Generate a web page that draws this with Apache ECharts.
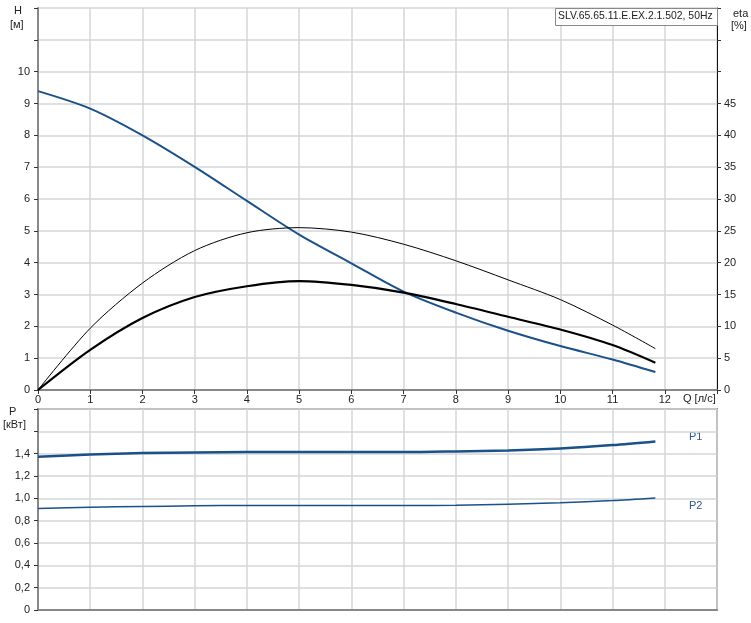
<!DOCTYPE html>
<html>
<head>
<meta charset="utf-8">
<script src="https://cdn.jsdelivr.net/npm/echarts@6/dist/echarts.min.js"></script>
<style>
  html, body { margin: 0; padding: 0; background: #fff; }
  #pump { width: 751px; height: 623px; }
</style>
</head>
<body>
<div id="pump"></div>
<script>
// расход Q, л/с
var qValues = [0, 1, 2, 3, 4, 5, 6, 7, 8, 9, 10, 11, 11.82];
// напор H, м
var headValues = [9.39, 8.84, 8.0, 7.01, 5.94, 4.88, 3.98, 3.09, 2.43, 1.86, 1.38, 0.96, 0.565];
// КПД, % (тонкая и толстая линии)
var etaThin = [0, 9.7, 16.8, 21.9, 24.7, 25.5, 24.8, 22.9, 20.3, 17.3, 14.2, 10.2, 6.5];
var etaThick = [0, 6.3, 11.3, 14.6, 16.3, 17.1, 16.5, 15.3, 13.5, 11.5, 9.5, 7.06, 4.28];
// мощность, кВт
var p1Values = [1.372, 1.393, 1.405, 1.411, 1.414, 1.414, 1.414, 1.414, 1.42, 1.429, 1.447, 1.477, 1.51];
var p2Values = [0.909, 0.921, 0.927, 0.933, 0.936, 0.936, 0.936, 0.936, 0.939, 0.948, 0.96, 0.98, 1.004];

var pairs = function (ys) {
    var res = [];
    for (var i = 0; i < qValues.length; i++) {
        res.push([qValues[i], ys[i]]);
    }
    return res;
};

var blue = '#1b5189';
var font = 'Liberation Sans, Arial, sans-serif';
var gridLine = { show: true, lineStyle: { color: '#d3d6d8', width: 1.5 } };
var labelStyle = { color: '#222', fontSize: 11, fontFamily: font };

var myChart = echarts.init(document.getElementById('pump'));

option = {
    animation: false,
    backgroundColor: '#fff',
    grid: [
        { left: 38, right: 34, top: 8, bottom: 233 },
        { left: 38, right: 34, top: 409, bottom: 13, show: true, borderColor: '#888', borderWidth: 2 }
    ],
    xAxis: [
        {
            gridIndex: 0, type: 'value', min: 0, max: 13, interval: 1,
            axisLine: { lineStyle: { color: '#888', width: 2 } },
            axisTick: { length: 4, lineStyle: { color: '#333' } },
            axisLabel: Object.assign({ margin: 4, formatter: function (v) { return v <= 12 ? v : ''; } }, labelStyle),
            splitLine: gridLine
        },
        {
            gridIndex: 1, type: 'value', min: 0, max: 13, interval: 1,
            axisLine: { lineStyle: { color: '#888', width: 2 } },
            axisTick: { show: false },
            axisLabel: { show: false },
            splitLine: gridLine
        }
    ],
    yAxis: [
        {
            gridIndex: 0, type: 'value', min: 0, max: 12, interval: 1,
            axisLine: { show: true, lineStyle: { color: '#888', width: 2 } },
            axisTick: { show: true, length: 4, lineStyle: { color: '#333' } },
            axisLabel: Object.assign({ margin: 8, formatter: function (v) { return v <= 10 ? v : ''; } }, labelStyle),
            splitLine: gridLine
        },
        {
            gridIndex: 0, type: 'value', min: 0, max: 60, interval: 5, position: 'right',
            axisLine: { show: true, lineStyle: { color: '#111', width: 1 } },
            axisTick: { show: true, length: 4, lineStyle: { color: '#333' } },
            axisLabel: Object.assign({ margin: 7, formatter: function (v) { return v <= 45 ? v : ''; } }, labelStyle),
            splitLine: { show: false }
        },
        {
            gridIndex: 1, type: 'value', min: 0, max: 1.8, interval: 0.2,
            axisLine: { show: true, lineStyle: { color: '#888', width: 2 } },
            axisTick: { show: true, length: 4, lineStyle: { color: '#333' } },
            axisLabel: Object.assign({
                margin: 8,
                formatter: function (v) {
                    if (v > 1.41) return '';
                    return v === 0 ? '0' : v.toFixed(1).replace('.', ',');
                }
            }, labelStyle),
            splitLine: gridLine
        }
    ],
    graphic: [
        { type: 'text', left: 14, top: 5, style: { text: 'H', font: '11px ' + font, fill: '#222' } },
        { type: 'text', left: 10, top: 19, style: { text: '[м]', font: '11px ' + font, fill: '#222' } },
        { type: 'text', left: 733, top: 8, style: { text: 'eta', font: '11px ' + font, fill: '#222' } },
        { type: 'text', left: 731, top: 20, style: { text: '[%]', font: '11px ' + font, fill: '#222' } },
        { type: 'text', left: 683, top: 393, style: { text: 'Q [л/с]', font: '11px ' + font, fill: '#222' } },
        { type: 'text', left: 9, top: 406, style: { text: 'P', font: '11px ' + font, fill: '#222' } },
        { type: 'text', left: 3, top: 419, style: { text: '[кВт]', font: '11px ' + font, fill: '#222' } },
        { type: 'text', left: 689, top: 431, style: { text: 'P1', font: '11px ' + font, fill: '#2a5a8c' } },
        { type: 'text', left: 689, top: 500, style: { text: 'P2', font: '11px ' + font, fill: '#2a5a8c' } },
        // подпись модели насоса
        {
            type: 'rect', left: 555, top: 8, z: 100,
            shape: { width: 162, height: 17 },
            style: { fill: '#fff', stroke: '#888', lineWidth: 1 }
        },
        {
            type: 'text', left: 558, top: 11, z: 101,
            style: { text: 'SLV.65.65.11.E.EX.2.1.502, 50Hz', font: '10.4px ' + font, fill: '#222' }
        }
    ],
    series: [
        {
            name: 'H', type: 'line', xAxisIndex: 0, yAxisIndex: 0, smooth: 0.3, showSymbol: false,
            lineStyle: { color: blue, width: 2 }, data: pairs(headValues), z: 3
        },
        {
            name: 'eta', type: 'line', xAxisIndex: 0, yAxisIndex: 1, smooth: 0.3, showSymbol: false,
            lineStyle: { color: '#000', width: 1 }, data: pairs(etaThin)
        },
        {
            name: 'eta2', type: 'line', xAxisIndex: 0, yAxisIndex: 1, smooth: 0.3, showSymbol: false,
            lineStyle: { color: '#000', width: 2.2 }, data: pairs(etaThick)
        },
        {
            name: 'P1', type: 'line', xAxisIndex: 1, yAxisIndex: 2, smooth: 0.3, showSymbol: false,
            lineStyle: { color: blue, width: 2.5 }, data: pairs(p1Values)
        },
        {
            name: 'P2', type: 'line', xAxisIndex: 1, yAxisIndex: 2, smooth: 0.3, showSymbol: false,
            lineStyle: { color: blue, width: 1.5 }, data: pairs(p2Values)
        }
    ]
};

myChart.setOption(option);
</script>
</body>
</html>
